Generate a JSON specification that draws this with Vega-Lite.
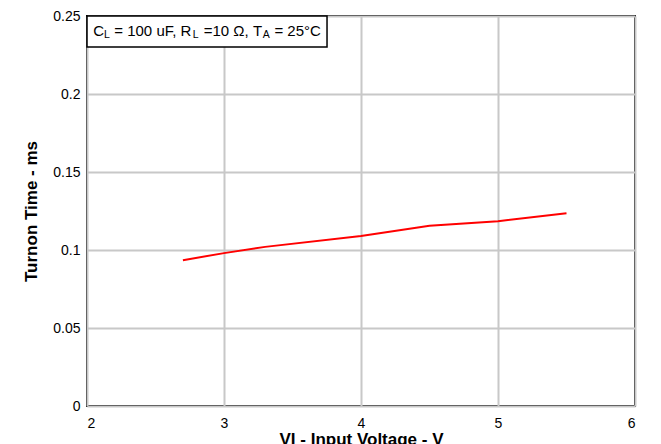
{
  "$schema": "https://vega.github.io/schema/vega-lite/v6.json",
  "width": 548,
  "height": 390,
  "autosize": {"type": "none"},
  "padding": {"left": 87, "top": 16, "right": 26, "bottom": 38},
  "background": "white",
  "config": {
    "font": "Liberation Sans",
    "view": {"stroke": "black", "strokeWidth": 2},
    "text": {"font": "Liberation Sans", "fontWeight": "normal"},
    "axis": {
      "grid": true,
      "gridColor": "#c8c8c8",
      "gridWidth": 2,
      "domain": false,
      "ticks": false,
      "labelFont": "Liberation Sans",
      "labelFontSize": 14,
      "labelColor": "black",
      "titleFont": "Liberation Sans",
      "titleFontSize": 17,
      "titleFontWeight": "bold",
      "titleColor": "black"
    }
  },
  "data": {
    "values": [
      {"voltage": 2.7, "time": 0.0935},
      {"voltage": 3.0, "time": 0.098},
      {"voltage": 3.3, "time": 0.102},
      {"voltage": 4.0, "time": 0.109},
      {"voltage": 4.5, "time": 0.1155},
      {"voltage": 5.0, "time": 0.1185},
      {"voltage": 5.5, "time": 0.1235}
    ]
  },
  "layer": [
    {
      "mark": {"type": "line", "color": "#ff0000", "strokeWidth": 2, "clip": true},
      "encoding": {
        "x": {
          "field": "voltage", "type": "quantitative",
          "scale": {"domain": [2, 6], "nice": false},
          "axis": {"values": [2, 3, 4, 5, 6], "format": "~g", "labelPadding": 10, "title": "VI - Input Voltage - V", "titlePadding": 1}
        },
        "y": {
          "field": "time", "type": "quantitative",
          "scale": {"domain": [0, 0.25], "nice": false},
          "axis": {"values": [0, 0.05, 0.1, 0.15, 0.2, 0.25], "format": "~g", "labelPadding": 7, "title": "Turnon Time - ms", "titlePadding": 12}
        }
      }
    },
    {
      "data": {"values": [{}]},
      "layer": [
        {
          "mark": {"type": "rect", "fill": "white", "stroke": "black", "strokeWidth": 1.5},
          "encoding": {
            "x": {"datum": 2},
            "x2": {"datum": 3.752},
            "y": {"datum": 0.25},
            "y2": {"datum": 0.2301}
          }
        },
        {
          "mark": {"type": "text", "align": "left", "baseline": "middle", "fontSize": 15, "color": "black"},
          "encoding": {"x": {"datum": 2.045}, "y": {"datum": 0.2401}, "text": {"value": "C"}}
        },
        {
          "mark": {"type": "text", "align": "left", "baseline": "middle", "fontSize": 10.5, "dy": 4, "color": "black"},
          "encoding": {"x": {"datum": 2.124}, "y": {"datum": 0.2401}, "text": {"value": "L"}}
        },
        {
          "mark": {"type": "text", "align": "left", "baseline": "middle", "fontSize": 15, "color": "black"},
          "encoding": {"x": {"datum": 2.199}, "y": {"datum": 0.2401}, "text": {"value": "= 100 uF, R"}}
        },
        {
          "mark": {"type": "text", "align": "left", "baseline": "middle", "fontSize": 10.5, "dy": 4, "color": "black"},
          "encoding": {"x": {"datum": 2.771}, "y": {"datum": 0.2401}, "text": {"value": "L"}}
        },
        {
          "mark": {"type": "text", "align": "left", "baseline": "middle", "fontSize": 15, "color": "black"},
          "encoding": {"x": {"datum": 2.852}, "y": {"datum": 0.2401}, "text": {"value": "=10 Ω, T"}}
        },
        {
          "mark": {"type": "text", "align": "left", "baseline": "middle", "fontSize": 10.5, "dy": 4, "color": "black"},
          "encoding": {"x": {"datum": 3.283}, "y": {"datum": 0.2401}, "text": {"value": "A"}}
        },
        {
          "mark": {"type": "text", "align": "left", "baseline": "middle", "fontSize": 15, "color": "black"},
          "encoding": {"x": {"datum": 3.368}, "y": {"datum": 0.2401}, "text": {"value": "= 25°C"}}
        }
      ]
    }
  ]
}
